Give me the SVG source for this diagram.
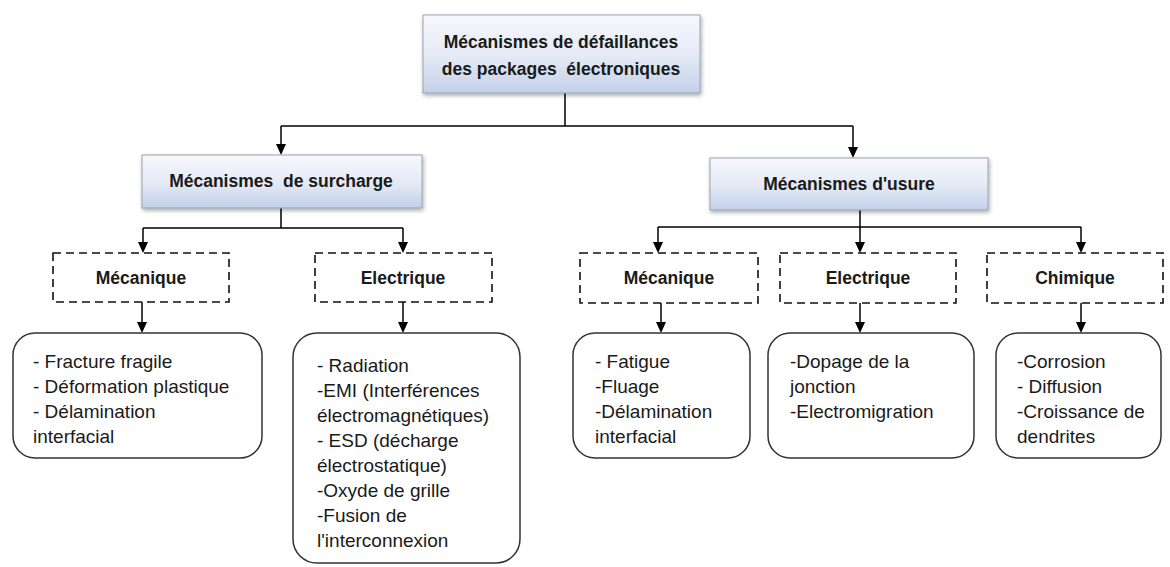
<svg xmlns="http://www.w3.org/2000/svg" width="1170" height="567" viewBox="0 0 1170 567">
<defs>
<linearGradient id="g" x1="0" y1="0" x2="0" y2="1">
<stop offset="0" stop-color="#f7f8fc"/>
<stop offset="0.55" stop-color="#e3e9f5"/>
<stop offset="1" stop-color="#c2d0e8"/>
</linearGradient>
<filter id="sh" x="-5%" y="-10%" width="112%" height="130%">
<feGaussianBlur in="SourceAlpha" stdDeviation="2"/>
<feOffset dx="1" dy="2"/>
<feComponentTransfer><feFuncA type="linear" slope="0.35"/></feComponentTransfer>
<feMerge><feMergeNode/><feMergeNode in="SourceGraphic"/></feMerge>
</filter>
<style>
.hdr{fill:url(#g);stroke:#9aa3b0;stroke-width:1;filter:url(#sh)}
.dash{fill:#fff;stroke:#111;stroke-width:1.6;stroke-dasharray:8 5}
.rnd{fill:#fff;stroke:#333;stroke-width:1.5}
.bt{font-family:"Liberation Sans",Arial,sans-serif;font-weight:bold;font-size:17.5px;fill:#1a1a1a;white-space:pre}
.t{font-family:"Liberation Sans",Arial,sans-serif;font-size:19px;fill:#1a1a1a}
.ln{fill:none;stroke:#000;stroke-width:1.5}
.ah{fill:#000}
</style>
</defs>
<rect width="1170" height="567" fill="#fff"/>
<g id="connectors">
<path class="ln" d="M565,93 V126 M281,126 H853"/>
<path class="ln" d="M281,126 V145"/><path class="ah" d="M276,144 H286 L281,155 Z"/>
<path class="ln" d="M853,126 V148"/><path class="ah" d="M848,147 H858 L853,158 Z"/>
<path class="ln" d="M281,208 V228 M143,228 H403"/>
<path class="ln" d="M143,228 V243"/><path class="ah" d="M138,242 H148 L143,253 Z"/>
<path class="ln" d="M403,228 V243"/><path class="ah" d="M398,242 H408 L403,253 Z"/>
<path class="ln" d="M860,210 V227 M658,227 H1081"/>
<path class="ln" d="M658,227 V243"/><path class="ah" d="M653,242 H663 L658,253 Z"/>
<path class="ln" d="M860,227 V243"/><path class="ah" d="M855,242 H865 L860,253 Z"/>
<path class="ln" d="M1081,227 V243"/><path class="ah" d="M1076,242 H1086 L1081,253 Z"/>
<path class="ln" d="M142,302 V323"/><path class="ah" d="M137,322 H147 L142,333 Z"/>
<path class="ln" d="M403,302 V323"/><path class="ah" d="M398,322 H408 L403,333 Z"/>
<path class="ln" d="M661,303 V323"/><path class="ah" d="M656,322 H666 L661,333 Z"/>
<path class="ln" d="M860,303 V323"/><path class="ah" d="M855,322 H865 L860,333 Z"/>
<path class="ln" d="M1081,303 V323"/><path class="ah" d="M1076,322 H1086 L1081,333 Z"/>
</g>
<g id="root">
<rect class="hdr" x="423" y="15" width="277" height="78"/>
<text class="bt" x="561" y="48" text-anchor="middle">Mécanismes de défaillances</text>
<text class="bt" x="561" y="75" text-anchor="middle">des packages  électroniques</text>
</g>
<g id="surcharge">
<rect class="hdr" x="142" y="155" width="280" height="53"/>
<text class="bt" x="281" y="187" text-anchor="middle">Mécanismes  de surcharge</text>
</g>
<g id="usure">
<rect class="hdr" x="710" y="158" width="278" height="52"/>
<text class="bt" x="849" y="190" text-anchor="middle">Mécanismes d'usure</text>
</g>
<g id="s-mecanique">
<rect class="dash" x="53" y="253" width="176" height="49"/>
<text class="bt" x="141" y="284" text-anchor="middle">Mécanique</text>
</g>
<g id="s-electrique">
<rect class="dash" x="315" y="253" width="177" height="49"/>
<text class="bt" x="403" y="284" text-anchor="middle">Electrique</text>
</g>
<g id="u-mecanique">
<rect class="dash" x="580" y="253" width="178" height="50"/>
<text class="bt" x="669" y="284" text-anchor="middle">Mécanique</text>
</g>
<g id="u-electrique">
<rect class="dash" x="780" y="253" width="176" height="50"/>
<text class="bt" x="868" y="284" text-anchor="middle">Electrique</text>
</g>
<g id="u-chimique">
<rect class="dash" x="987" y="253" width="176" height="50"/>
<text class="bt" x="1075" y="284" text-anchor="middle">Chimique</text>
</g>
<g id="s-mec-list">
<rect class="rnd" x="13" y="333" width="249" height="125" rx="22"/>
<text class="t" x="33" y="368">- Fracture fragile</text>
<text class="t" x="33" y="393">- Déformation plastique</text>
<text class="t" x="33" y="418">- Délamination</text>
<text class="t" x="33" y="443">interfacial</text>
</g>
<g id="s-elec-list">
<rect class="rnd" x="293" y="333" width="227" height="230" rx="24"/>
<text class="t" x="317" y="372">- Radiation</text>
<text class="t" x="317" y="397">-EMI (Interférences</text>
<text class="t" x="317" y="422">électromagnétiques)</text>
<text class="t" x="317" y="447">- ESD (décharge</text>
<text class="t" x="317" y="472">électrostatique)</text>
<text class="t" x="317" y="497">-Oxyde de grille</text>
<text class="t" x="317" y="522">-Fusion de</text>
<text class="t" x="317" y="547">l'interconnexion</text>
</g>
<g id="u-mec-list">
<rect class="rnd" x="573" y="333" width="177" height="125" rx="22"/>
<text class="t" x="595" y="368">- Fatigue</text>
<text class="t" x="595" y="393">-Fluage</text>
<text class="t" x="595" y="418">-Délamination</text>
<text class="t" x="595" y="443">interfacial</text>
</g>
<g id="u-elec-list">
<rect class="rnd" x="768" y="333" width="206" height="125" rx="22"/>
<text class="t" x="790" y="368">-Dopage de la</text>
<text class="t" x="790" y="393">jonction</text>
<text class="t" x="790" y="418">-Electromigration</text>
</g>
<g id="u-chim-list">
<rect class="rnd" x="996" y="333" width="165" height="125" rx="22"/>
<text class="t" x="1017" y="368">-Corrosion</text>
<text class="t" x="1017" y="393">- Diffusion</text>
<text class="t" x="1017" y="418">-Croissance de</text>
<text class="t" x="1017" y="443">dendrites</text>
</g>
</svg>
